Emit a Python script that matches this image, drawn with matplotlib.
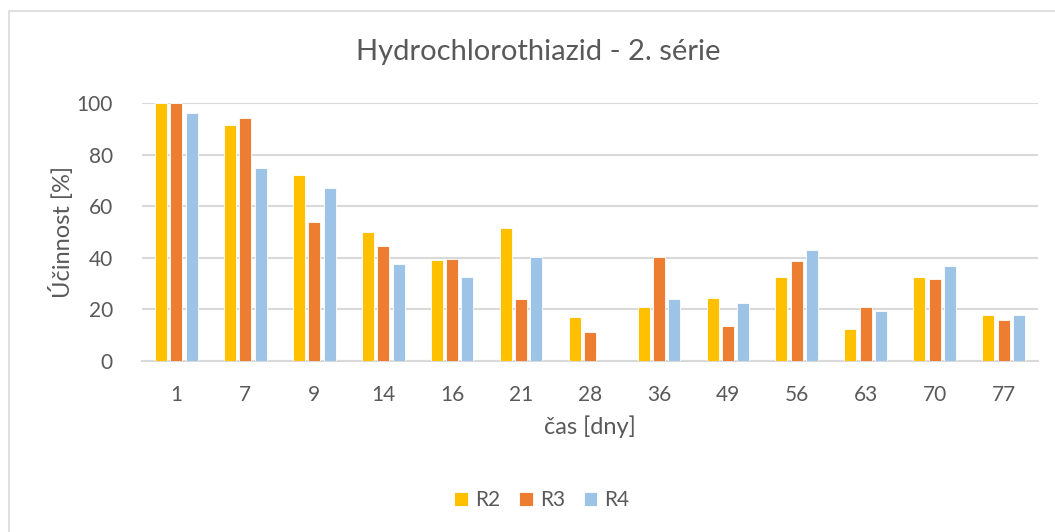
import matplotlib
matplotlib.use("Agg")
import matplotlib.pyplot as plt
import numpy as np
from matplotlib.patches import Rectangle

plt.rcParams['font.family'] = ['Lato', 'DejaVu Sans']

categories = ["1", "7", "9", "14", "16", "21", "28", "36", "49", "56", "63", "70", "77"]
r2 = [100, 91.4, 72.1, 50.0, 39.0, 51.4, 17.0, 21.0, 24.5, 32.6, 12.3, 32.6, 17.8]
r3 = [100, 94.3, 53.8, 44.5, 39.5, 24.0, 11.3, 40.3, 13.6, 38.6, 20.9, 31.8, 15.8]
r4 = [96.1, 74.9, 66.9, 37.5, 32.7, 40.5, 0, 24.0, 22.6, 43.0, 19.2, 37.0, 18.0]
series_names = ["R2", "R3", "R4"]
colors = ["#FFC000", "#ED7D31", "#9DC3E6"]
title = "Hydrochlorothiazid - 2. série"
xlabel = "čas [dny]"
ylabel = "Účinnost [%]"

W, H = 1055, 532
fig = plt.figure(figsize=(W / 100, H / 100), dpi=100)
ax = fig.add_axes([142 / W, 1 - 361 / H, (1038 - 142) / W, (361 - 103) / H])

x = np.arange(len(categories))
width = 0.175
step = 0.222
txt = "#595959"
for i, (vals, name, c) in enumerate(zip([r2, r3, r4], series_names, colors)):
    ax.bar(x + (i - 1) * step, vals, width, color=c, label=name,
           edgecolor="white", linewidth=0.6, zorder=3)

ax.set_xlim(-0.5, len(categories) - 0.5)
ax.set_ylim(0, 100)
ax.set_yticks(range(0, 101, 20))
ax.set_xticks(x)
ax.set_xticklabels(categories)
ax.grid(axis="y", color="#D9D9D9", linewidth=1.5, zorder=0)
for s in ["top", "right", "left"]:
    ax.spines[s].set_visible(False)
ax.spines["bottom"].set_color("#D9D9D9")
ax.spines["bottom"].set_linewidth(1.5)
ax.tick_params(axis="both", length=0, colors=txt, labelsize=15)
ax.tick_params(axis="y", pad=21)
ax.tick_params(axis="x", pad=17)

ax.set_xlabel(xlabel, fontsize=17, color=txt, labelpad=8)
ax.set_ylabel(ylabel, fontsize=17, color=txt, labelpad=2)

fig.text(538 / W, 1 - 52 / H, title, ha="center", va="center", fontsize=21, color=txt)

leg = fig.legend(loc="center", bbox_to_anchor=(542 / W, 1 - 500 / H), ncol=3,
                 frameon=False, fontsize=15, handlelength=0.65, handleheight=0.65,
                 handletextpad=0.35, columnspacing=0.9, labelcolor=txt)

fig.patches.append(Rectangle((9 / W, -0.1), 1.2, 1 - 11 / H + 0.1, transform=fig.transFigure,
                             fill=False, edgecolor="#D9D9D9", linewidth=1.2))

fig.savefig("out.png", dpi=100)
